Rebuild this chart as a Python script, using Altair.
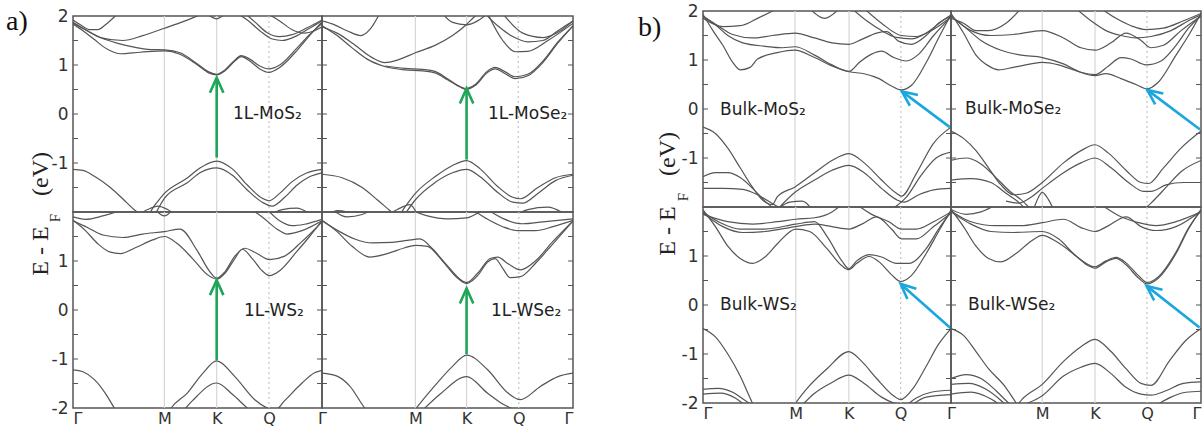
import math
import altair as alt
import pandas as pd

# ---------------- data ----------------
# high-symmetry positions (M, K, Q) per panel, path Γ-M-K-Q-Γ mapped to [0, 1]
a1_hs = [0.367, 0.577, 0.787]
a2_hs = [0.372, 0.576, 0.782]
a3_hs = [0.367, 0.577, 0.787]
a4_hs = [0.372, 0.576, 0.784]
b1_hs = [0.371, 0.589, 0.798]
b2_hs = [0.365, 0.576, 0.784]
b3_hs = [0.374, 0.588, 0.797]
b4_hs = [0.365, 0.576, 0.784]

a1_label = "1L-MoS₂"
a2_label = "1L-MoSe₂"
a3_label = "1L-WS₂"
a4_label = "1L-WSe₂"
b1_label = "Bulk-MoS₂"
b2_label = "Bulk-MoSe₂"
b3_label = "Bulk-WS₂"
b4_label = "Bulk-WSe₂"

# bands: lists of [k, E(eV)]
a1_bands = [
    [[0,-1.13],[0.04,-1.15],[0.086,-1.27],[0.15,-1.5],[0.21,-1.78],[0.25,-1.97],[0.29,-2.1],[0.33,-1.85],[0.367,-1.62],[0.46,-1.3],[0.51,-1.1],[0.577,-0.96],[0.64,-1.12],[0.7,-1.45],[0.76,-1.72],[0.787,-1.77],[0.83,-1.62],[0.88,-1.38],[0.94,-1.2],[1,-1.13]],
    [[0.33,-2.05],[0.367,-1.72],[0.46,-1.4],[0.51,-1.2],[0.577,-1.1],[0.64,-1.25],[0.7,-1.55],[0.76,-1.8],[0.8,-1.88],[0.85,-1.7],[0.9,-1.45],[0.95,-1.28],[1,-1.2]],
    [[0.25,-2.1],[0.3,-1.95],[0.34,-1.88],[0.38,-1.95],[0.42,-2.1]],
    [[0.78,-2.1],[0.84,-1.95],[0.9,-1.92],[0.96,-2.05],[1,-2.1]],
    [[0,1.83],[0.04,1.7],[0.086,1.52],[0.12,1.38],[0.15,1.29],[0.19,1.23],[0.27,1.26],[0.367,1.29],[0.43,1.22],[0.5,1.0],[0.545,0.84],[0.577,0.8],[0.61,0.88],[0.65,1.08],[0.675,1.17],[0.71,1.08],[0.75,0.92],[0.787,0.85],[0.83,0.95],[0.9,1.3],[0.95,1.6],[1,1.88]],
    [[0,1.87],[0.05,1.72],[0.11,1.56],[0.18,1.44],[0.25,1.36],[0.3,1.32],[0.367,1.31],[0.43,1.25],[0.5,1.02],[0.545,0.86],[0.577,0.81],[0.61,0.9],[0.65,1.1],[0.675,1.19],[0.71,1.12],[0.75,0.98],[0.787,0.92],[0.83,1.0],[0.9,1.35],[0.95,1.62],[1,1.85]],
    [[0,1.92],[0.03,1.82],[0.07,1.72],[0.1,1.72],[0.13,1.82],[0.17,2.0],[0.2,2.15]],
    [[0.0,1.85],[0.05,1.72],[0.11,1.56],[0.2,1.5],[0.28,1.6],[0.367,1.75],[0.45,1.9],[0.5,2.0],[0.55,2.1]],
    [[0.52,2.1],[0.55,2.0],[0.577,1.94],[0.6,2.0],[0.63,2.1]],
    [[0.64,2.1],[0.7,1.92],[0.75,1.7],[0.8,1.53],[0.84,1.5],[0.9,1.6],[0.95,1.75],[1,1.9]],
    [[0.68,2.1],[0.73,1.88],[0.78,1.66],[0.83,1.58],[0.88,1.62],[0.94,1.76],[1,1.92]],
    [[0.78,2.05],[0.83,1.9],[0.88,1.72],[0.93,1.65],[0.97,1.7],[1,1.78]],
]
a2_bands = [
    [[0,-1.23],[0.08,-1.3],[0.16,-1.5],[0.22,-1.75],[0.27,-1.97],[0.3,-2.1],[0.33,-1.9],[0.372,-1.62],[0.45,-1.28],[0.52,-1.05],[0.576,-0.95],[0.63,-1.12],[0.7,-1.48],[0.76,-1.7],[0.79,-1.73],[0.86,-1.5],[0.93,-1.3],[1,-1.23]],
    [[0.33,-2.05],[0.372,-1.75],[0.45,-1.4],[0.52,-1.2],[0.576,-1.13],[0.63,-1.28],[0.7,-1.6],[0.76,-1.8],[0.8,-1.82],[0.86,-1.62],[0.93,-1.36],[1,-1.25]],
    [[0.25,-2.1],[0.3,-1.95],[0.35,-1.85],[0.38,-2.05]],
    [[0.76,-2.1],[0.82,-1.95],[0.9,-1.9],[0.97,-2.05]],
    [[0.02,-2.1],[0.06,-1.97],[0.1,-2.0],[0.13,-2.1]],
    [[0,1.8],[0.06,1.6],[0.12,1.35],[0.18,1.12],[0.25,0.97],[0.33,0.9],[0.4,0.88],[0.45,0.84],[0.5,0.7],[0.55,0.55],[0.576,0.5],[0.61,0.58],[0.66,0.85],[0.69,0.92],[0.73,0.82],[0.77,0.72],[0.82,0.78],[0.88,1.05],[0.94,1.45],[1,1.8]],
    [[0.25,0.98],[0.33,0.93],[0.4,0.91],[0.45,0.87],[0.5,0.72],[0.55,0.56],[0.576,0.52],[0.61,0.6],[0.66,0.88],[0.69,0.95],[0.73,0.86],[0.77,0.76],[0.82,0.81],[0.88,1.08],[0.94,1.47],[1,1.8]],
    [[0,1.78],[0.06,1.65],[0.12,1.45],[0.2,1.15],[0.25,1.05],[0.3,1.1],[0.372,1.25],[0.45,1.4],[0.52,1.6],[0.57,1.8],[0.6,1.95],[0.63,2.1]],
    [[0,1.9],[0.05,1.82],[0.1,1.7],[0.155,1.6],[0.19,1.72],[0.23,2.05]],
    [[0.48,2.05],[0.52,1.87],[0.576,1.82],[0.62,1.9],[0.66,2.05]],
    [[0.64,2.1],[0.7,1.8],[0.76,1.58],[0.82,1.47],[0.88,1.5],[0.94,1.7],[1,1.9]],
    [[0.66,2.05],[0.72,1.5],[0.77,1.27],[0.82,1.28],[0.9,1.5],[1,1.85]],
    [[0.72,2.05],[0.8,1.65],[0.88,1.56],[0.95,1.7],[1,1.9]],
]
a3_bands = [
    [[0,-1.22],[0.04,-1.26],[0.086,-1.42],[0.13,-1.7],[0.166,-2.0],[0.22,-2.4],[0.3,-2.5],[0.37,-2.2],[0.394,-2.0],[0.46,-1.69],[0.52,-1.3],[0.577,-1.04],[0.65,-1.36],[0.73,-1.83],[0.78,-2.0],[0.81,-2.05],[0.85,-1.85],[0.92,-1.49],[0.97,-1.28],[1,-1.23]],
    [[0.42,-2.2],[0.48,-1.85],[0.577,-1.49],[0.64,-1.72],[0.7,-2.0],[0.75,-2.2]],
    [[0,1.83],[0.05,1.62],[0.1,1.35],[0.15,1.18],[0.19,1.15],[0.25,1.27],[0.32,1.43],[0.367,1.5],[0.42,1.35],[0.48,1.05],[0.54,0.72],[0.577,0.63],[0.61,0.75],[0.65,1.05],[0.68,1.24],[0.72,1.05],[0.76,0.8],[0.79,0.7],[0.83,0.8],[0.9,1.2],[0.95,1.5],[1,1.82]],
    [[0,1.82],[0.06,1.68],[0.12,1.53],[0.2,1.48],[0.28,1.55],[0.367,1.6],[0.43,1.65],[0.5,1.2],[0.55,0.78],[0.577,0.65],[0.61,0.78],[0.65,1.1],[0.69,1.26],[0.73,1.18],[0.79,1.03],[0.85,1.1],[0.92,1.4],[1,1.8]],
    [[0.7,2.1],[0.76,1.9],[0.82,1.65],[0.86,1.55],[0.92,1.62],[1,1.82]],
    [[0.78,2.05],[0.83,1.82],[0.88,1.72],[0.93,1.75],[1,1.85]],
    [[0,1.9],[0.05,1.85],[0.12,1.92],[0.2,2.05]],
    [[0.33,2.05],[0.367,1.92],[0.4,2.05]],
]
a4_bands = [
    [[0,-1.29],[0.06,-1.35],[0.11,-1.55],[0.17,-2.0],[0.25,-2.4],[0.33,-2.3],[0.368,-2.05],[0.447,-1.56],[0.52,-1.15],[0.576,-0.92],[0.66,-1.22],[0.74,-1.69],[0.79,-1.83],[0.87,-1.56],[0.94,-1.36],[1,-1.29]],
    [[0.4,-2.05],[0.47,-1.72],[0.576,-1.36],[0.66,-1.7],[0.72,-1.92],[0.78,-2.05],[0.84,-2.1]],
    [[0,1.83],[0.06,1.6],[0.12,1.3],[0.19,1.08],[0.26,1.15],[0.33,1.27],[0.372,1.32],[0.42,1.3],[0.48,1.0],[0.54,0.65],[0.576,0.54],[0.62,0.7],[0.66,0.98],[0.69,1.05],[0.72,0.85],[0.75,0.66],[0.79,0.68],[0.85,0.95],[0.92,1.35],[1,1.82]],
    [[0,1.82],[0.07,1.6],[0.13,1.45],[0.2,1.37],[0.28,1.38],[0.34,1.42],[0.39,1.45],[0.44,1.25],[0.5,0.9],[0.576,0.56],[0.62,0.75],[0.67,1.05],[0.7,1.08],[0.74,0.95],[0.79,0.82],[0.85,1.0],[0.92,1.4],[1,1.82]],
    [[0.6,2.05],[0.66,1.85],[0.72,1.7],[0.78,1.62],[0.85,1.62],[0.92,1.7],[1,1.83]],
    [[0.66,2.05],[0.72,1.87],[0.8,1.76],[0.88,1.8],[1,1.86]],
    [[0.35,2.05],[0.42,1.92],[0.5,1.86],[0.576,1.88],[0.64,2.05]],
    [[0.04,2.05],[0.1,1.9],[0.16,1.95],[0.2,2.05]],
]
b1_bands = [
    [[0,-0.37],[0.05,-0.5],[0.1,-0.8],[0.15,-1.2],[0.2,-1.6],[0.24,-1.86],[0.28,-1.95],[0.3,-1.79],[0.371,-1.59],[0.45,-1.3],[0.52,-1.05],[0.589,-0.91],[0.65,-1.1],[0.72,-1.45],[0.78,-1.72],[0.8,-1.78],[0.86,-1.32],[0.928,-0.71],[1,-0.37]],
    [[0.3,-2.05],[0.371,-1.7],[0.45,-1.45],[0.52,-1.25],[0.589,-1.15],[0.65,-1.3],[0.72,-1.62],[0.78,-1.85],[0.81,-1.9],[0.87,-1.75],[0.93,-1.65],[1,-1.62]],
    [[0,-1.38],[0.05,-1.3],[0.1,-1.3],[0.15,-1.4],[0.2,-1.62],[0.25,-1.88],[0.29,-2.05]],
    [[0,-1.62],[0.08,-1.62],[0.16,-1.64],[0.22,-1.75],[0.27,-1.9],[0.32,-2.05]],
    [[0.76,-2.05],[0.82,-1.8],[0.88,-1.35],[0.94,-1.0],[1,-0.88]],
    [[0.3,-2.05],[0.35,-1.9],[0.4,-1.88],[0.44,-2.05]],
    [[0,1.93],[0.04,1.6],[0.08,1.3],[0.12,0.95],[0.15,0.8],[0.19,0.85],[0.22,1.02],[0.3,1.15],[0.371,1.2],[0.45,1.05],[0.52,0.88],[0.589,0.76],[0.65,0.72],[0.71,0.62],[0.76,0.47],[0.798,0.39],[0.84,0.48],[0.9,0.95],[0.95,1.45],[1,1.93]],
    [[0,1.88],[0.05,1.72],[0.1,1.5],[0.16,1.35],[0.25,1.28],[0.32,1.25],[0.371,1.27],[0.45,1.1],[0.52,0.9],[0.589,0.77],[0.63,0.95],[0.68,1.12],[0.72,1.18],[0.77,1.05],[0.82,0.98],[0.87,1.12],[0.93,1.5],[1,1.88]],
    [[0,1.9],[0.06,1.7],[0.12,1.52],[0.2,1.45],[0.28,1.5],[0.371,1.55],[0.45,1.45],[0.52,1.35],[0.589,1.32],[0.64,1.42],[0.7,1.55],[0.74,1.58],[0.79,1.38],[0.84,1.32],[0.9,1.5],[0.95,1.75],[1,1.9]],
    [[0,1.85],[0.08,1.68],[0.15,1.7],[0.22,1.85],[0.3,2.05]],
    [[0.43,2.05],[0.49,1.85],[0.55,2.05]],
    [[0.6,2.05],[0.66,1.8],[0.72,1.6],[0.78,1.46],[0.84,1.43],[0.9,1.55],[0.96,1.78],[1,1.92]],
    [[0.65,2.05],[0.72,1.75],[0.8,1.5],[0.86,1.48],[0.92,1.6],[1,1.88]],
]
b2_bands = [
    [[0,-0.45],[0.05,-0.6],[0.1,-0.85],[0.15,-1.2],[0.2,-1.55],[0.25,-1.75],[0.3,-1.72],[0.365,-1.5],[0.45,-1.1],[0.52,-0.85],[0.576,-0.73],[0.63,-0.9],[0.7,-1.25],[0.76,-1.5],[0.79,-1.52],[0.85,-1.2],[0.92,-0.8],[1,-0.45]],
    [[0.22,-1.88],[0.27,-1.92],[0.32,-1.8],[0.365,-1.62],[0.45,-1.3],[0.52,-1.1],[0.576,-1.0],[0.64,-1.2],[0.71,-1.5],[0.77,-1.68],[0.8,-1.68],[0.86,-1.55],[0.93,-1.5],[1,-1.5]],
    [[0,-1.05],[0.06,-1.0],[0.12,-1.12],[0.18,-1.4],[0.24,-1.7],[0.28,-1.85],[0.32,-2.05]],
    [[0,-1.45],[0.08,-1.42],[0.16,-1.5],[0.22,-1.72],[0.27,-1.9],[0.3,-2.05]],
    [[0.76,-2.1],[0.8,-1.92],[0.86,-1.6],[0.92,-1.28],[1,-1.05]],
    [[0.33,-2.05],[0.35,-1.8],[0.365,-1.7],[0.39,-1.85],[0.41,-2.05]],
    [[0,1.95],[0.05,1.55],[0.1,1.1],[0.15,0.88],[0.19,0.8],[0.25,0.85],[0.32,0.92],[0.365,0.95],[0.43,0.9],[0.5,0.78],[0.576,0.68],[0.62,0.72],[0.68,0.62],[0.74,0.5],[0.784,0.41],[0.83,0.55],[0.9,1.1],[0.95,1.5],[1,1.95]],
    [[0,1.9],[0.06,1.65],[0.12,1.4],[0.2,1.2],[0.28,1.1],[0.365,1.05],[0.45,0.92],[0.52,0.75],[0.576,0.7],[0.63,0.88],[0.68,1.05],[0.72,1.02],[0.78,0.9],[0.84,0.98],[0.9,1.3],[0.95,1.65],[1,1.9]],
    [[0,1.9],[0.08,1.6],[0.16,1.5],[0.25,1.52],[0.365,1.6],[0.45,1.45],[0.52,1.25],[0.576,1.2],[0.64,1.35],[0.7,1.55],[0.76,1.4],[0.8,1.25],[0.85,1.3],[0.92,1.6],[1,1.9]],
    [[0,1.85],[0.05,1.75],[0.1,1.6],[0.15,1.6],[0.22,1.75],[0.28,2.05]],
    [[0.5,2.05],[0.56,1.8],[0.62,1.6],[0.68,1.5],[0.74,1.45],[0.8,1.48],[0.88,1.6],[0.95,1.8],[1,1.92]],
    [[0.6,2.05],[0.66,1.85],[0.72,1.7],[0.78,1.62],[0.85,1.65],[0.93,1.8],[1,1.95]],
]
b3_bands = [
    [[0,-0.48],[0.05,-0.65],[0.1,-1.0],[0.15,-1.45],[0.19,-1.9],[0.23,-2.3],[0.3,-2.5],[0.35,-2.2],[0.374,-2.0],[0.42,-1.7],[0.5,-1.3],[0.588,-0.95],[0.64,-1.15],[0.7,-1.5],[0.76,-1.82],[0.797,-1.93],[0.85,-1.68],[0.9,-1.25],[0.95,-0.8],[1,-0.48]],
    [[0.38,-2.15],[0.45,-1.8],[0.52,-1.58],[0.588,-1.43],[0.65,-1.6],[0.72,-1.88],[0.77,-2.0],[0.82,-2.05]],
    [[0,-1.72],[0.06,-1.7],[0.12,-1.78],[0.17,-1.95],[0.2,-2.05]],
    [[0,-1.82],[0.07,-1.8],[0.13,-1.9],[0.17,-2.05]],
    [[0.82,-2.05],[0.86,-1.9],[0.92,-1.78],[1,-1.74]],
    [[0.84,-2.05],[0.9,-1.88],[1,-1.83]],
    [[0,1.94],[0.05,1.6],[0.1,1.2],[0.15,0.95],[0.2,0.85],[0.25,0.98],[0.3,1.25],[0.374,1.55],[0.43,1.5],[0.5,1.15],[0.56,0.8],[0.588,0.72],[0.62,0.85],[0.67,0.99],[0.71,0.88],[0.76,0.62],[0.797,0.48],[0.84,0.6],[0.9,1.05],[0.95,1.5],[1,1.94]],
    [[0,1.9],[0.07,1.68],[0.15,1.55],[0.25,1.55],[0.374,1.65],[0.45,1.7],[0.5,1.4],[0.56,0.9],[0.588,0.74],[0.62,0.9],[0.67,1.03],[0.72,0.98],[0.78,0.85],[0.83,0.85],[0.9,1.15],[0.95,1.55],[1,1.9]],
    [[0,1.88],[0.08,1.6],[0.16,1.48],[0.25,1.5],[0.374,1.6],[0.45,1.65],[0.52,1.6],[0.588,1.55],[0.64,1.65],[0.7,1.8],[0.76,1.55],[0.8,1.35],[0.86,1.35],[0.93,1.6],[1,1.88]],
    [[0,1.85],[0.1,1.7],[0.2,1.65],[0.3,1.7],[0.374,1.75],[0.45,1.78],[0.52,1.9],[0.56,2.05]],
    [[0.62,2.05],[0.68,1.85],[0.75,1.7],[0.8,1.55],[0.86,1.55],[0.93,1.7],[1,1.9]],
]
b4_bands = [
    [[0,-0.48],[0.05,-0.62],[0.1,-0.95],[0.15,-1.3],[0.217,-1.67],[0.258,-1.98],[0.28,-2.15]],
    [[0.25,-2.15],[0.285,-1.92],[0.365,-1.62],[0.45,-1.15],[0.52,-0.85],[0.576,-0.7],[0.64,-0.95],[0.7,-1.3],[0.76,-1.6],[0.8,-1.64],[0.875,-1.13],[0.94,-0.72],[1,-0.48]],
    [[0.28,-2.05],[0.365,-1.85],[0.45,-1.45],[0.52,-1.27],[0.576,-1.19],[0.64,-1.4],[0.7,-1.68],[0.76,-1.82],[0.8,-1.84],[0.86,-1.75],[0.93,-1.6],[1,-1.57]],
    [[0,-1.5],[0.06,-1.42],[0.12,-1.5],[0.18,-1.75],[0.22,-1.95],[0.25,-2.1]],
    [[0,-1.62],[0.07,-1.6],[0.14,-1.72],[0.2,-1.95],[0.23,-2.1]],
    [[0,-1.82],[0.08,-1.78],[0.16,-1.92],[0.2,-2.05]],
    [[0.82,-2.05],[0.88,-1.88],[0.94,-1.78],[1,-1.76]],
    [[0,1.95],[0.05,1.6],[0.1,1.2],[0.15,0.95],[0.2,0.88],[0.26,1.05],[0.32,1.3],[0.365,1.42],[0.42,1.3],[0.5,1.0],[0.55,0.8],[0.576,0.75],[0.62,0.88],[0.66,0.95],[0.7,0.82],[0.75,0.55],[0.784,0.43],[0.83,0.55],[0.9,1.05],[0.95,1.55],[1,1.95]],
    [[0,1.9],[0.08,1.65],[0.16,1.5],[0.25,1.48],[0.365,1.5],[0.43,1.35],[0.5,1.0],[0.576,0.78],[0.62,0.9],[0.66,0.97],[0.7,0.86],[0.75,0.6],[0.784,0.46],[0.83,0.58],[0.9,1.08],[0.95,1.57],[1,1.92]],
    [[0,1.92],[0.08,1.7],[0.18,1.62],[0.28,1.62],[0.365,1.68],[0.45,1.75],[0.52,1.58],[0.576,1.5],[0.63,1.62],[0.7,1.8],[0.76,1.6],[0.82,1.52],[0.9,1.6],[1,1.92]],
    [[0.6,2.05],[0.68,1.8],[0.75,1.68],[0.82,1.62],[0.9,1.7],[1,1.9]],
    [[0,1.95],[0.06,1.85],[0.12,1.9],[0.18,2.05]],
]

# gap arrows: [k_start, E_start, k_tip, E_tip]
a1_arrow = [0.577, -0.89, 0.577, 0.74]
a2_arrow = [0.576, -0.93, 0.576, 0.52]
a3_arrow = [0.577, -1.02, 0.577, 0.61]
a4_arrow = [0.576, -0.90, 0.576, 0.44]
b1_arrow = [0.995, -0.37, 0.802, 0.36]
b2_arrow = [0.996, -0.42, 0.785, 0.39]
b3_arrow = [1.0, -0.48, 0.797, 0.43]
b4_arrow = [0.994, -0.46, 0.782, 0.39]

y_tick_minor = [-1.5, -1, -0.5, 0, 0.5, 1, 1.5]
y_labels_top = [2, 1, 0, -1]
y_labels_bottom = [1, 0, -1, -2]
hs_names = ["Γ", "M", "K", "Q", "Γ"]

# ---------------- styling ----------------
SANS = "DejaVu Sans"
SERIF = "Liberation Serif"
LINE = "#555555"
GREEN = "#1ea556"
BLUE = "#1aa6de"
ONE = pd.DataFrame({"z": [0]})


def label_expr(vals, names):
    expr = "''"
    for v, n in reversed(list(zip(vals, names))):
        expr = f"abs(datum.value - {v}) < 0.002 ? '{n}' : ({expr})"
    return expr


def text_layer(txt, x, y, size, font, angle=0, align="center", color="#222222"):
    kw = dict(text=txt, font=font, fontSize=size, align=align, baseline="middle", color=color)
    if angle:
        kw["angle"] = angle
    return alt.Chart(ONE).mark_text(**kw).encode(x=alt.value(x), y=alt.value(y))


def make_panel(bands, hs, label, label_xy, W, H, arrow, color,
               y_labels=None, x_show=None, x_align=None, extras=()):
    rows = []
    for bi, band in enumerate(bands):
        for i, (k, e) in enumerate(band):
            rows.append({"band": bi, "i": i, "k": k, "E": e})
    df = pd.DataFrame(rows)

    xs = alt.Scale(domain=[0, 1], nice=False, zero=False)
    ys = alt.Scale(domain=[-2, 2], nice=False, zero=False)

    if x_show is not None:
        allv = [0] + list(hs) + [1]
        vals = [allv[i] for i in x_show]
        names = [hs_names[i] for i in x_show]
        xax = alt.Axis(values=vals, labelExpr=label_expr(vals, names), title=None,
                       grid=False, ticks=False, domain=False, labelFont=SANS,
                       labelFontSize=16, labelColor="#333333", labelPadding=2,
                       labelFlush=False, labelAlign=x_align)
    else:
        xax = None
    if y_labels is not None:
        yax = alt.Axis(values=y_labels, labelExpr="replace(datum.label, '\u2212', '-')",
                       title=None, grid=False, ticks=False, domain=False,
                       labelFont=SANS, labelFontSize=17, labelColor="#333333",
                       labelPadding=5)
    else:
        yax = None

    X = lambda f: alt.X(f, scale=xs, axis=xax)
    Y = lambda f: alt.Y(f, scale=ys, axis=yax)

    gdf = pd.DataFrame({"k": hs})
    grid_solid = alt.Chart(gdf.iloc[:2]).mark_rule(color="#d6d6d6", strokeWidth=1.2).encode(x=X("k:Q"))
    grid_dot = alt.Chart(gdf.iloc[2:]).mark_rule(color="#c4c4c4", strokeWidth=1.2,
                                                  strokeDash=[2, 3]).encode(x=X("k:Q"))

    lines = alt.Chart(df).mark_line(interpolate="monotone", clip=True, color=LINE,
                                    strokeWidth=1.2).encode(
        x=X("k:Q"), y=Y("E:Q"), detail="band:N", order="i:Q")

    tdf = pd.DataFrame({"E": y_tick_minor})
    ticks_l = alt.Chart(tdf).mark_rule(color=LINE, strokeWidth=1).encode(
        y=Y("E:Q"), x=alt.value(0), x2=alt.value(5))
    ticks_r = alt.Chart(tdf).mark_rule(color=LINE, strokeWidth=1).encode(
        y=Y("E:Q"), x=alt.value(W - 5), x2=alt.value(W))

    k0, e0, k1, e1 = arrow
    adf = pd.DataFrame({"k0": [k0], "e0": [e0], "k1": [k1], "e1": [e1]})
    dx = (k1 - k0) * W
    dy = -(e1 - e0) * H / 4.0
    ang = math.degrees(math.atan2(dx, -dy)) % 360
    shaft = alt.Chart(adf).mark_rule(color=color, strokeWidth=2.6).encode(
        x=X("k0:Q"), y=Y("e0:Q"), x2="k1:Q", y2="e1:Q")
    head_kw = dict(shape="M-0.45,1L0,0L0.45,1", filled=False, size=900,
                   strokeWidth=2.6, color=color, opacity=1)
    if ang > 0.01:
        head_kw["angle"] = ang
    head = alt.Chart(adf).mark_point(**head_kw).encode(x=X("k1:Q"), y=Y("e1:Q"))

    lab = text_layer(label, label_xy[0], label_xy[1], 17, SANS, align="left")

    layers = [grid_solid, grid_dot, lines, ticks_l, ticks_r, shaft, head, lab] + list(extras)
    return alt.layer(*layers).properties(width=W, height=H)


def ytitle(xc, xf, y_ev, y_f, y_e):
    return [
        text_layer("(eV)", xc, y_ev, 24, SERIF, angle=270),
        text_layer("F", xf, y_f, 15, SERIF, angle=270),
        text_layer("E - E", xc, y_e, 24, SERIF, angle=270),
    ]


H = 196
cond_left = {"condition": {"test": "datum.value < 0.01", "value": "left"}, "value": "center"}
cond_right = {"condition": {"test": "datum.value > 0.99", "value": "right"}, "value": "center"}

a1 = make_panel(a1_bands, a1_hs, a1_label, (160, 98), 249, H, a1_arrow, GREEN,
                y_labels=y_labels_top,
                extras=[text_layer("a)", -67, 6, 28, SERIF, align="left", color="#111111")]
                + ytitle(-32, -18.5, 158, 202, 235))
a2 = make_panel(a2_bands, a2_hs, a2_label, (166, 98), 251, H, a2_arrow, GREEN)
a3 = make_panel(a3_bands, a3_hs, a3_label, (171, 99), 249, H, a3_arrow, GREEN,
                y_labels=y_labels_bottom, x_show=[0, 1, 2, 3, 4], x_align=cond_left)
a4 = make_panel(a4_bands, a4_hs, a4_label, (169, 99), 251, H, a4_arrow, GREEN,
                x_show=[1, 2, 3, 4], x_align=cond_right)

b1 = make_panel(b1_bands, b1_hs, b1_label, (17, 99), 248, H, b1_arrow, BLUE,
                y_labels=y_labels_top,
                extras=[text_layer("b)", -65, 17, 28, SERIF, align="left", color="#111111")]
                + ytitle(-35, -20, 143, 186, 220))
b2 = make_panel(b2_bands, b2_hs, b2_label, (14, 98), 250, H, b2_arrow, BLUE)
b3 = make_panel(b3_bands, b3_hs, b3_label, (17, 98), 248, H, b3_arrow, BLUE,
                y_labels=y_labels_bottom, x_show=[0, 1, 2, 3, 4], x_align=cond_left)
b4 = make_panel(b4_bands, b4_hs, b4_label, (17, 98), 250, H, b4_arrow, BLUE,
                x_show=[1, 2, 3, 4], x_align=cond_right)

# a thin empty strip above group a, so that group a sits a few pixels lower than group b
spacer = alt.Chart(ONE).mark_rule(opacity=0).encode(
    x=alt.value(0), y=alt.value(0)
).properties(width=10, height=5, view=alt.ViewBackground(strokeOpacity=0, strokeWidth=0))

A_grid = alt.concat(a1, a2, a3, a4, columns=2, spacing=0, bounds="flush")
A = alt.vconcat(spacer, A_grid, spacing=0, bounds="flush")
B = alt.concat(b1, b2, b3, b4, columns=2, spacing=0, bounds="flush")

chart = alt.hconcat(A, B, spacing=62).properties(
    padding={"left": 5, "top": 1, "right": 0, "bottom": 0},
    background="white",
).configure_view(stroke=LINE, strokeWidth=1.5)

chart.save("out.html", embed_options={"renderer": "svg", "actions": False})
